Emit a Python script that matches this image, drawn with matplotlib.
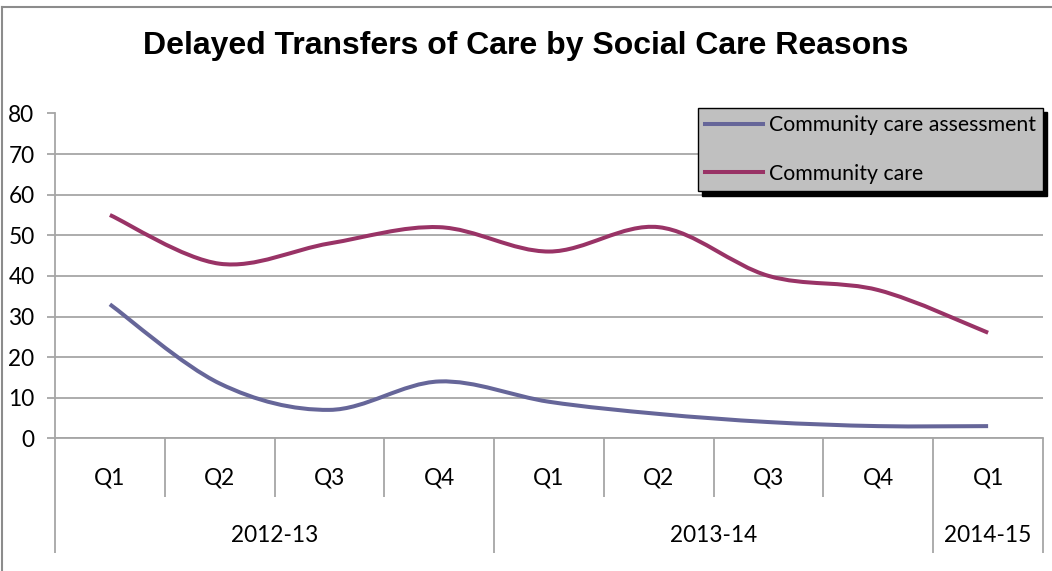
import matplotlib.pyplot as plt
from matplotlib.path import Path
from matplotlib.patches import PathPatch
from matplotlib.lines import Line2D
from matplotlib import transforms

# data (quarterly counts)
quarters = ['Q1', 'Q2', 'Q3', 'Q4', 'Q1', 'Q2', 'Q3', 'Q4', 'Q1']
years = ['2012-13', '2013-14', '2014-15']
year_starts = [0, 4, 8, 9]
assessment = [33, 13.5, 7, 14, 9, 6, 4, 3, 3]
care = [55, 43, 48, 52, 46, 52, 40, 36.5, 26]
yticks = [0, 10, 20, 30, 40, 50, 60, 70, 80]

c_assess = '#666699'
c_care = '#993366'
grey = '#a6a6a6'
label_font = 'Lato'
label_size = 16.3

W, H = 1052, 571
fig = plt.figure(figsize=(W / 100, H / 100), dpi=100)
ax = fig.add_axes([55 / W, 1 - 438.3 / H, (1043 - 55) / W, (438.3 - 113.5) / H])


def smooth_path(xs, ys):
    # excel-style smoothed line: cubic bezier through each point
    pts = list(zip(xs, ys))
    n = len(pts)
    verts = [pts[0]]
    codes = [Path.MOVETO]
    for i in range(n - 1):
        p0 = pts[max(i - 1, 0)]
        p1 = pts[i]
        p2 = pts[i + 1]
        p3 = pts[min(i + 2, n - 1)]
        c1 = (p1[0] + (p2[0] - p0[0]) / 6, p1[1] + (p2[1] - p0[1]) / 6)
        c2 = (p2[0] - (p3[0] - p1[0]) / 6, p2[1] - (p3[1] - p1[1]) / 6)
        verts += [c1, c2, p2]
        codes += [Path.CURVE4] * 3
    return Path(verts, codes)


xs = [i + 0.5 for i in range(len(quarters))]
for vals, col in [(assessment, c_assess), (care, c_care)]:
    ax.add_patch(PathPatch(smooth_path(xs, vals), facecolor='none',
                           edgecolor=col, lw=2.9, capstyle='butt', zorder=3))

ax.set_xlim(0, len(quarters))
ax.set_ylim(0, 80)
ax.set_yticks(yticks)
ax.grid(axis='y', color=grey, lw=1.3)
ax.set_axisbelow(True)
ax.tick_params(axis='y', length=5.8, width=1.3, color=grey, pad=9,
               labelsize=label_size)
for lab in ax.get_yticklabels():
    lab.set_family(label_font)

# category boundaries: short ticks between quarters, long ones between years
ax.set_xticks(year_starts)
ax.set_xticks([i for i in range(1, len(quarters)) if i not in year_starts],
              minor=True)
ax.tick_params(axis='x', which='major', length=83, width=1.3, color=grey,
               labelbottom=False)
ax.tick_params(axis='x', which='minor', length=42.5, width=1.3, color=grey,
               labelbottom=False)

for s in ('top', 'right'):
    ax.spines[s].set_visible(False)
for s in ('left', 'bottom'):
    ax.spines[s].set_color(grey)
    ax.spines[s].set_linewidth(1.3)

trans = transforms.blended_transform_factory(ax.transData, ax.transAxes)
for x, q in zip(xs, quarters):
    ax.text(x, -0.122, q, transform=trans, ha='center', va='center',
            fontsize=label_size, family=label_font)
for k, yr in enumerate(years):
    mid = (year_starts[k] + year_starts[k + 1]) / 2
    ax.text(mid, -0.298, yr, transform=trans, ha='center', va='center',
            fontsize=label_size, family=label_font)

fig.text(0.5, 1 - 46 / H, 'Delayed Transfers of Care by Social Care Reasons',
         ha='center', va='center', fontsize=23, fontweight='bold',
         family='Liberation Sans')

handles = [Line2D([], [], color=c_assess, lw=2.9),
           Line2D([], [], color=c_care, lw=2.9)]
leg = ax.legend(handles, ['Community care assessment', 'Community care'],
                loc='upper right', bbox_to_anchor=(1, (438.3 - 108) / 324.8),
                borderaxespad=0, fancybox=False, facecolor='#c0c0c0',
                edgecolor='black', framealpha=1,
                shadow={'color': 'black', 'ox': 3.2, 'oy': -3.2, 'alpha': 1},
                prop={'family': label_font, 'size': 15.3},
                handlelength=2.75, handletextpad=0.24, labelspacing=1.33,
                borderpad=0.35)
leg.get_frame().set_linewidth(1.0)

# outer chart-area border (top and left edges visible)
fig.add_artist(Line2D([2 / W, 2 / W], [0, 1 - 7 / H], color='#8c8c8c',
                      lw=1.5, transform=fig.transFigure))
fig.add_artist(Line2D([2 / W, 1], [1 - 7 / H, 1 - 7 / H], color='#8c8c8c',
                      lw=1.5, transform=fig.transFigure))

fig.savefig('out.png', dpi=100)
